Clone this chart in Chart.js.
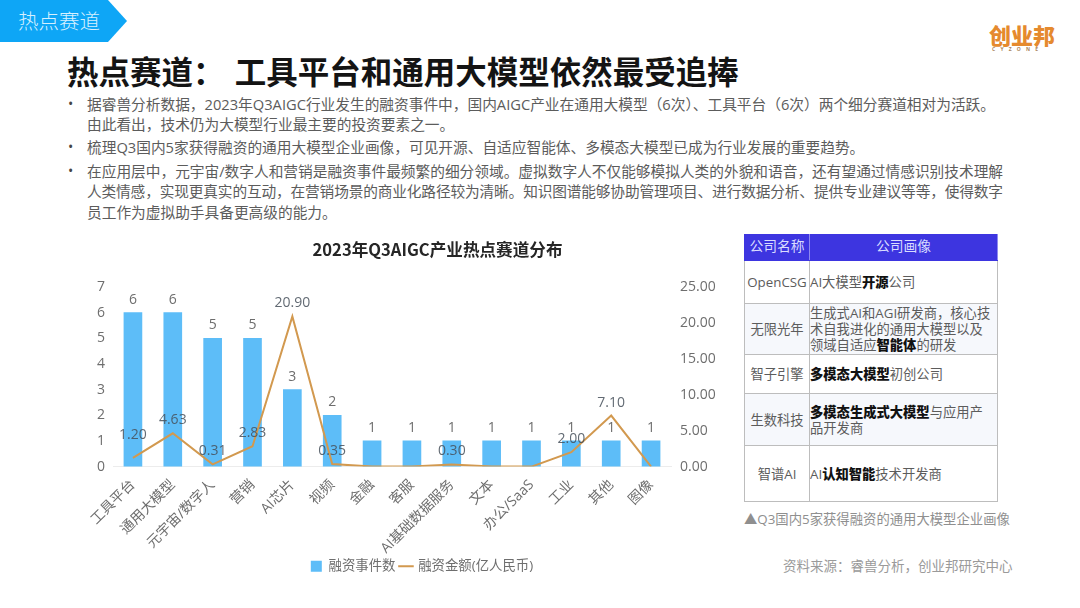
<!DOCTYPE html>
<html lang="zh">
<head>
<meta charset="utf-8">
<script src="https://cdn.jsdelivr.net/npm/chart.js@4"></script>
<style>
html,body{margin:0;padding:0;background:#fff}
body{width:1080px;height:608px;position:relative;overflow:hidden;font-family:"Open Sans","Noto Sans CJK SC",sans-serif;color:#595959}
.abs{position:absolute;white-space:nowrap}
#tag{left:0;top:0;width:127px;height:42px;background:#0ea6f6;clip-path:polygon(0 0,108px 0,127px 21px,108px 42px,0 42px)}
#tagtext{left:18px;top:9px;font-size:20.5px;line-height:24px;color:#d5f0ff;font-weight:300}
#title{left:67px;top:48px;font-size:31.5px;line-height:44px;font-weight:700;word-spacing:3px;color:#141414;font-family:"Noto Sans CJK SC",sans-serif}
#logo{left:989px;top:21px;font-size:22px;line-height:26px;font-weight:900;color:#e58a2e;font-family:"Noto Sans CJK SC",sans-serif}
#logosub{left:992px;top:46px;font-size:5px;line-height:7px;letter-spacing:5.2px;color:#a8835c;font-weight:700}
.ln{font-size:14.7px;line-height:20px;left:87px;color:#5c5c5c}
.dot{font-size:14px;line-height:20px;left:68px;color:#444}
canvas{position:absolute;left:70px;top:235px}
table{position:absolute;left:744px;top:234px;width:254px;height:267px;border-collapse:collapse;table-layout:fixed;font-size:13.3px;line-height:16px;color:#5c5c5c}
td,th{border:1px solid #bdbdbd;padding:0;vertical-align:middle;white-space:nowrap;overflow:hidden}
th{background:#3d35e0;color:#d9dcff;font-weight:400;font-size:13.8px;border-color:#3d35e0;border-right-color:#8f8af0;padding-bottom:3px}
td:first-child{text-align:center}
td b{color:#111;font-weight:900}
tr.alt td{background:#f6f8fc}
#cap{left:744px;top:510px;font-size:13.35px;line-height:18px;color:#8f8f8f}
#src{left:783px;top:557px;font-size:13.5px;line-height:18px;color:#9a9a9a}
</style>
</head>
<body>
<div id="tag" class="abs"></div>
<div id="tagtext" class="abs">热点赛道</div>
<div id="title" class="abs">热点赛道： 工具平台和通用大模型依然最受追捧</div>
<div id="logo" class="abs">创业邦</div>
<div id="logosub" class="abs">CYZONE</div>

<div class="abs dot" style="top:94px">•</div>
<div class="abs ln" style="top:94px">据睿兽分析数据，2023年Q3AIGC行业发生的融资事件中，国内AIGC产业在通用大模型（6次）、工具平台（6次）两个细分赛道相对为活跃。</div>
<div class="abs ln" style="top:114px">由此看出，技术仍为大模型行业最主要的投资要素之一。</div>
<div class="abs dot" style="top:137px">•</div>
<div class="abs ln" style="top:137px">梳理Q3国内5家获得融资的通用大模型企业画像，可见开源、自适应智能体、多模态大模型已成为行业发展的重要趋势。</div>
<div class="abs dot" style="top:161px">•</div>
<div class="abs ln" style="top:161px">在应用层中，元宇宙/数字人和营销是融资事件最频繁的细分领域。虚拟数字人不仅能够模拟人类的外貌和语音，还有望通过情感识别技术理解</div>
<div class="abs ln" style="top:181px;letter-spacing:-0.15px">人类情感，实现更真实的互动，在营销场景的商业化路径较为清晰。知识图谱能够协助管理项目、进行数据分析、提供专业建议等等，使得数字</div>
<div class="abs ln" style="top:202px">员工作为虚拟助手具备更高级的能力。</div>

<canvas id="c" width="660" height="354" style="width:660px;height:354px"></canvas>

<table>
<colgroup><col style="width:65px"><col></colgroup>
<tr style="height:26px"><th>公司名称</th><th>公司画像</th></tr>
<tr style="height:43px"><td>OpenCSG</td><td>AI大模型<b>开源</b>公司</td></tr>
<tr class="alt" style="height:51px"><td>无限光年</td><td>生成式AI和AGI研发商，核心技<br>术自我进化的通用大模型以及<br>领域自适应<b>智能体</b>的研发</td></tr>
<tr style="height:39px"><td>智子引擎</td><td><b>多模态大模型</b>初创公司</td></tr>
<tr class="alt" style="height:52px"><td>生数科技</td><td><b>多模态生成式大模型</b>与应用产<br>品开发商</td></tr>
<tr style="height:56px"><td>智谱AI</td><td>AI<b>认知智能</b>技术开发商</td></tr>
</table>
<div id="cap" class="abs">▲Q3国内5家获得融资的通用大模型企业画像</div>
<div id="src" class="abs">资料来源：睿兽分析，创业邦研究中心</div>

<script>
const categories = ["工具平台","通用大模型","元宇宙/数字人","营销","AI芯片","视频","金融","客服","AI基础数据服务","文本","办公/SaaS","工业","其他","图像"];
const eventCounts = [6,6,5,5,3,2,1,1,1,1,1,1,1,1];
const fundingAmounts = [1.20,4.63,0.31,2.83,20.90,0.35,0,0,0.30,0,0,2.00,7.10,0];
const leftTicks = [0,1,2,3,4,5,6,7];
const rightTicks = [0,5,10,15,20,25];

const FONT = '"Open Sans","Noto Sans CJK SC",sans-serif';
const GREY = '#6e6e6e';

const valueLabels = {
  id:'valueLabels',
  afterDatasetsDraw(chart){
    const ctx = chart.ctx;
    ctx.save();
    ctx.font = '14px ' + FONT;
    ctx.textAlign = 'center';
    ctx.textBaseline = 'middle';
    chart.getDatasetMeta(1).data.forEach((el,i)=>{
      ctx.fillStyle = GREY;
      ctx.fillText(String(eventCounts[i]), el.x, el.y - 13);
    });
    chart.getDatasetMeta(0).data.forEach((el,i)=>{
      if(!fundingAmounts[i]) return;
      const lift = i === 0 ? 23 : 13;
      ctx.fillStyle = 'rgba(70,80,90,0.85)';
      ctx.fillText(fundingAmounts[i].toFixed(2), el.x, el.y - lift);
    });
    ctx.restore();
  }
};
const shiftBlocks = {
  id:'shiftBlocks',
  afterLayout(chart){
    chart.titleBlock.left += 37.5; chart.titleBlock.right += 37.5;
    chart.legend.left += 22; chart.legend.right += 22;
  }
};

new Chart(document.getElementById('c'),{
  data:{
    labels:categories,
    datasets:[
      {type:'line',label:'融资金额(亿人民币)',data:fundingAmounts,yAxisID:'y2',borderColor:'#d2994f',backgroundColor:'#d2994f',borderWidth:2,pointRadius:0,tension:0,pointStyle:'line',order:1},
      {type:'bar',label:'融资事件数',data:eventCounts,yAxisID:'y',backgroundColor:'#5dbdf8',barThickness:18,pointStyle:'rect',order:2}
    ]
  },
  options:{
    responsive:false,animation:false,devicePixelRatio:1,
    layout:{padding:{top:5,bottom:6,left:0,right:0}},
    plugins:{
      title:{display:true,text:'2023年Q3AIGC产业热点赛道分布',color:'#262626',font:{family:'"Noto Sans CJK SC",sans-serif',size:16.6,weight:'bold'},padding:{top:0,bottom:27}},
      legend:{position:'bottom',reverse:true,labels:{usePointStyle:true,boxHeight:11,boxWidth:11,padding:5,color:GREY,font:{family:FONT,size:13.4}}},
      tooltip:{enabled:false}
    },
    scales:{
      x:{offset:true,grid:{display:false,drawTicks:false},border:{color:'#ececec'},
         ticks:{color:GREY,font:{family:FONT,size:14},minRotation:45,maxRotation:45,padding:10,autoSkip:false},
         afterFit(s){s.height=88;}},
      y:{position:'left',min:0,max:7,grid:{display:false,drawTicks:false},border:{display:false},
         afterBuildTicks(s){s.ticks=leftTicks.map(v=>({value:v}));},
         ticks:{color:GREY,font:{family:FONT,size:14},padding:8},
         afterFit(s){s.width=43;}},
      y2:{position:'right',min:0,max:25,grid:{display:false,drawTicks:false},border:{display:false},
         afterBuildTicks(s){s.ticks=rightTicks.map(v=>({value:v}));},
         ticks:{color:GREY,font:{family:FONT,size:14},padding:9,callback:v=>v.toFixed(2)},
         afterFit(s){s.width=59;}}
    }
  },
  plugins:[valueLabels,shiftBlocks]
});
</script>
</body>
</html>
